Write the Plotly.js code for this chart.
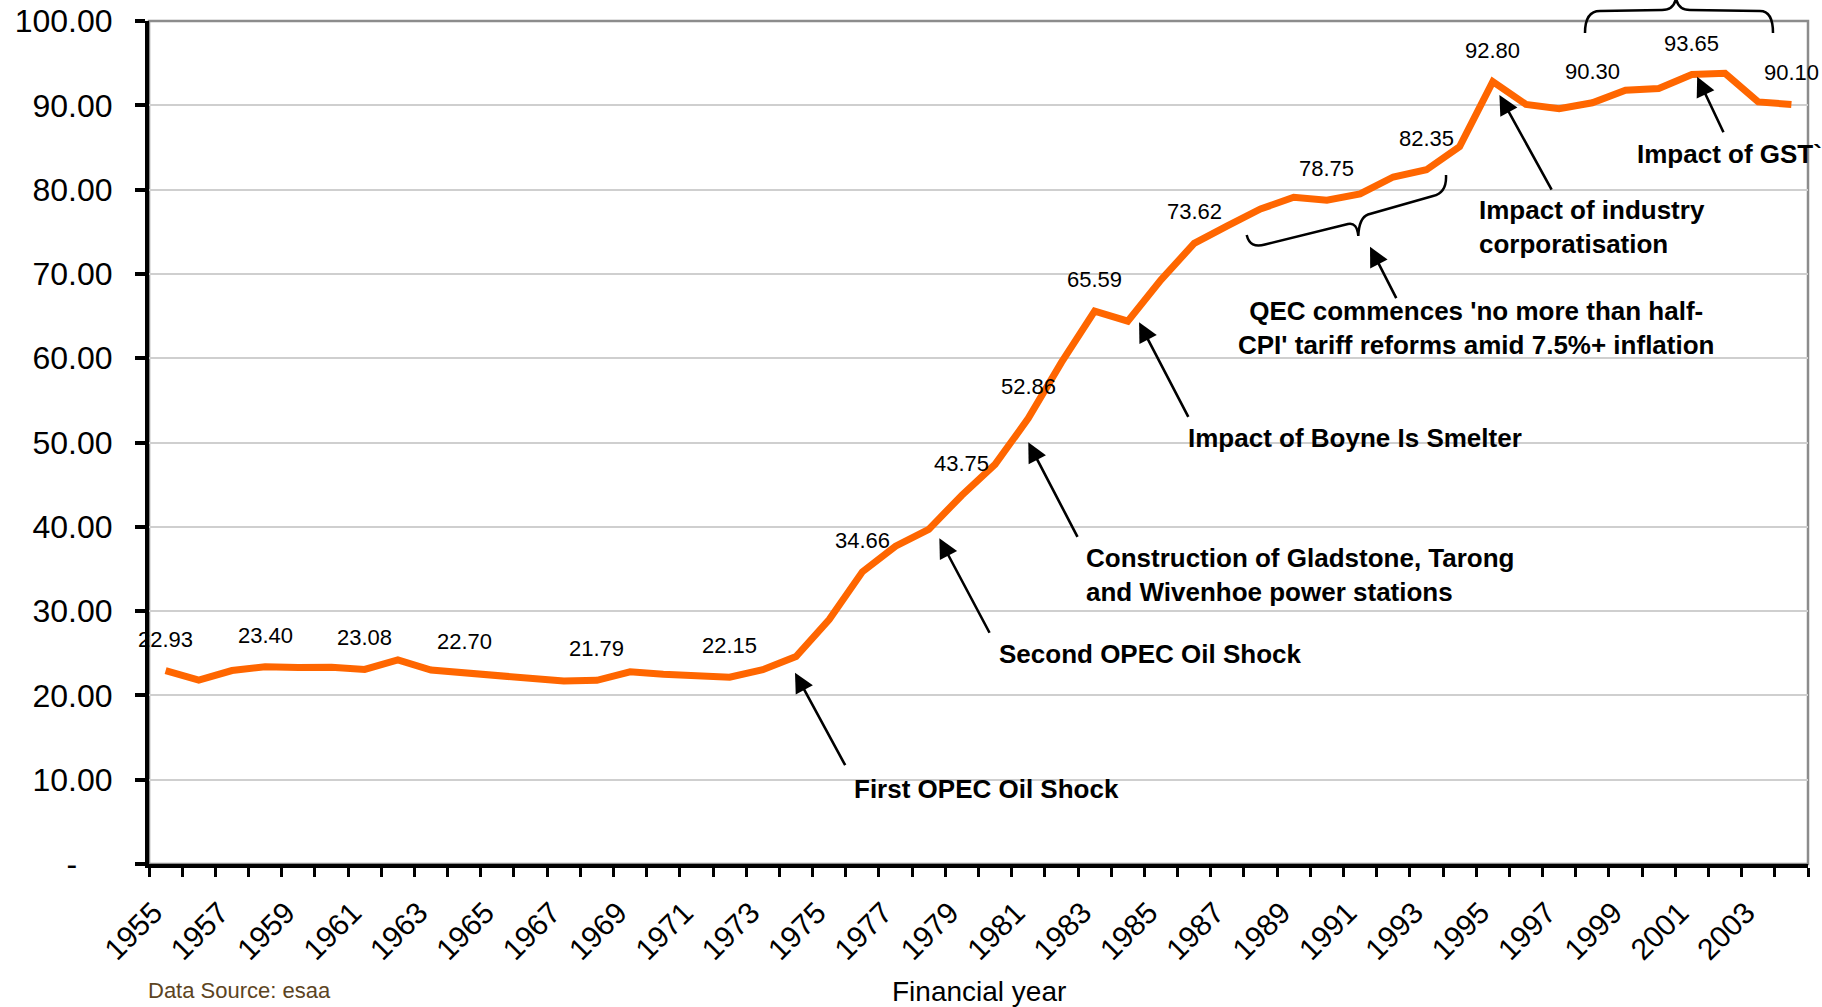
<!DOCTYPE html>
<html>
<head>
<meta charset="utf-8">
<script src="https://cdn.plot.ly/plotly-3.0.1.min.js"></script>
<style>
  html, body { margin: 0; padding: 0; background: #fff; }
  #chart { width: 1822px; height: 1007px; }
</style>
</head>
<body>
<div id="chart"></div>
<script>
// Financial year
const years = [
    1955, 1956, 1957, 1958, 1959, 1960, 1961, 1962, 1963, 1964,
    1965, 1966, 1967, 1968, 1969, 1970, 1971, 1972, 1973, 1974,
    1975, 1976, 1977, 1978, 1979, 1980, 1981, 1982, 1983, 1984,
    1985, 1986, 1987, 1988, 1989, 1990, 1991, 1992, 1993, 1994,
    1995, 1996, 1997, 1998, 1999, 2000, 2001, 2002, 2003, 2004
];
const values = [
    22.93, 21.80, 22.95, 23.40, 23.30, 23.35, 23.08, 24.20, 23.00, 22.70,
    22.50, 22.10, 21.70, 21.79, 22.80, 22.50, 22.30, 22.15, 23.05, 24.60,
    29.00, 34.66, 37.70, 39.70, 43.75, 47.40, 52.86, 59.50, 65.59, 64.40,
    69.30, 73.62, 75.70, 77.70, 79.10, 78.75, 79.50, 81.50, 82.35, 85.10,
    92.80, 90.10, 89.60, 90.30, 91.80, 92.00, 93.65, 93.80, 90.40, 90.10
];
// years that carry a value label
const labelYears = [1955, 1958, 1961, 1964, 1968, 1972, 1976, 1979, 1981, 1983, 1986, 1990, 1993, 1995, 1998, 2001, 2004];
const tickYears = [1955, 1957, 1959, 1961, 1963, 1965, 1967, 1969, 1971, 1973, 1975, 1977, 1979,
    1981, 1983, 1985, 1987, 1989, 1991, 1993, 1995, 1997, 1999, 2001, 2003];
const yTickVals = [0, 10, 20, 30, 40, 50, 60, 70, 80, 90, 100];
const yTickText = ['-\u00a0\u00a0\u00a0\u00a0', '10.00', '20.00', '30.00', '40.00', '50.00',
    '60.00', '70.00', '80.00', '90.00', '100.00'];

const FONT = 'Liberation Sans, Arial, sans-serif';

// plot box in pixels, used for the paper-referenced braces
const M = { l: 149, r: 14, t: 21, b: 143 };
const W = 1822 - M.l - M.r;
const H = 1007 - M.t - M.b;
const px = x => (x - M.l) / W;
const py = y => (M.t + H - y) / H;
const path = cmds => cmds.map(c => typeof c === 'string' ? c : px(c[0]) + ',' + py(c[1])).join(' ');

const trace = {
    x: years,
    y: values,
    type: 'scatter',
    mode: 'lines',
    line: { color: '#ff6600', width: 7 },
    hoverinfo: 'skip'
};

// value labels above the line
const valueLabels = labelYears.map(yr => {
    const v = values[years.indexOf(yr)];
    return {
        x: yr, y: v, text: v.toFixed(2), showarrow: false,
        xanchor: 'center', yanchor: 'bottom', yshift: 17,
        font: { family: FONT, size: 22, color: '#000' }
    };
});

// event notes: text position, arrow head (data) and tail offset (px)
const notes = [
    { text: 'First OPEC Oil Shock', x: 1975.69, y: 8.9, align: 'left', head: [1973.97, 22.69], tail: [51, 94] },
    { text: 'Second OPEC Oil Shock', x: 1980.06, y: 24.91, align: 'left', head: [1978.32, 38.64], tail: [51, 96] },
    { text: 'Construction of Gladstone, Tarong<br>and Wivenhoe power stations', x: 1982.68, y: 34.28, align: 'left', head: [1981.0, 50.02], tail: [50, 96] },
    { text: 'Impact of Boyne Is Smelter', x: 1985.75, y: 50.53, align: 'left', head: [1984.34, 64.26], tail: [50, 96] },
    { text: "QEC commences 'no more than half-<br>CPI' tariff reforms amid 7.5%+ inflation", x: 1994.49, y: 63.62, align: 'center', head: [1991.30, 73.23], tail: [27, 53] },
    { text: 'Impact of industry<br>corporatisation', x: 1994.52, y: 75.56, align: 'left', head: [1995.20, 91.22], tail: [53, 96] },
    { text: 'Impact of GST`', x: 1999.29, y: 84.22, align: 'left', head: [2001.16, 93.39], tail: [27, 57] }
];

const noteAnnotations = [];
notes.forEach(n => {
    noteAnnotations.push({
        x: n.x, y: n.y, text: n.text, showarrow: false,
        xanchor: n.align === 'center' ? 'center' : 'left', yanchor: 'middle', align: n.align,
        font: { family: FONT, size: 26, color: '#000', weight: 'bold' }
    });
    noteAnnotations.push({
        x: n.head[0], y: n.head[1], ax: n.tail[0], ay: n.tail[1], text: '',
        showarrow: true, arrowhead: 2, arrowsize: 1.5, arrowwidth: 2.6, arrowcolor: '#000', standoff: 0
    });
});

const otherAnnotations = [
    {
        xref: 'paper', yref: 'paper', x: 0.5, y: py(991), text: 'Financial year', showarrow: false,
        xanchor: 'center', yanchor: 'middle', font: { family: FONT, size: 28, color: '#000' }
    },
    {
        xref: 'paper', yref: 'paper', x: px(146), y: py(1005), text: 'Data Source: esaa', showarrow: false,
        xanchor: 'left', yanchor: 'bottom', font: { family: FONT, size: 22, color: '#5c4422' }
    }
];

const braceStyle = { color: '#000', width: 2.5 };
const shapes = [
    // grey frame, the black axes cover its left and bottom sides
    { type: 'rect', xref: 'paper', yref: 'paper', x0: 0, x1: 1, y0: 0, y1: 1,
      line: { color: '#8c8c8c', width: 2.5 }, layer: 'between' },
    // brace under the QEC years
    { type: 'path', xref: 'paper', yref: 'paper', line: braceStyle,
      path: path(['M', [1246.7, 235], 'Q', [1250, 249], [1265, 244.5], 'L', [1348, 224],
                  'Q', [1357, 222], [1358.3, 236], 'Q', [1359, 218], [1368, 214.5],
                  'L', [1433, 196], 'Q', [1447, 193], [1446, 175]]) },
    // brace over the GST years
    { type: 'path', xref: 'paper', yref: 'paper', line: braceStyle,
      path: path(['M', [1585, 33], 'Q', [1585, 11], [1600, 11], 'L', [1662, 10],
                  'Q', [1674, 10], [1676, -2], 'Q', [1678, 10], [1690, 10],
                  'L', [1760, 11], 'Q', [1773, 11], [1773, 33]]) }
];

const layout = {
    width: 1822,
    height: 1007,
    margin: M,
    paper_bgcolor: '#fff',
    plot_bgcolor: '#fff',
    showlegend: false,
    font: { family: FONT, color: '#000' },
    xaxis: {
        range: [1954.5, 2004.5],
        tickmode: 'array',
        tickvals: tickYears,
        ticktext: tickYears.map(String),
        tickangle: -45,
        ticks: '',
        ticklabelstandoff: 15,
        ticklabelshift: -12,
        tickfont: { family: FONT, size: 30, color: '#000' },
        showgrid: false,
        zeroline: false,
        showline: true,
        linecolor: '#000',
        linewidth: 4,
        minor: { tickmode: 'linear', tick0: 1954.5, dtick: 1, ticks: 'outside', ticklen: 9, tickwidth: 3, tickcolor: '#000', showgrid: false }
    },
    yaxis: {
        range: [0, 100],
        tickmode: 'array',
        tickvals: yTickVals,
        ticktext: yTickText,
        ticks: 'outside',
        ticklen: 10,
        tickwidth: 4,
        tickcolor: '#000',
        ticklabelstandoff: 16,
        tickfont: { family: FONT, size: 32, color: '#000' },
        showgrid: true,
        gridcolor: '#cfcfcf',
        gridwidth: 2,
        zeroline: false,
        showline: true,
        linecolor: '#000',
        linewidth: 4
    },
    shapes: shapes,
    annotations: valueLabels.concat(noteAnnotations, otherAnnotations)
};

Plotly.newPlot('chart', [trace], layout, { displayModeBar: false, staticPlot: true });
</script>
</body>
</html>
